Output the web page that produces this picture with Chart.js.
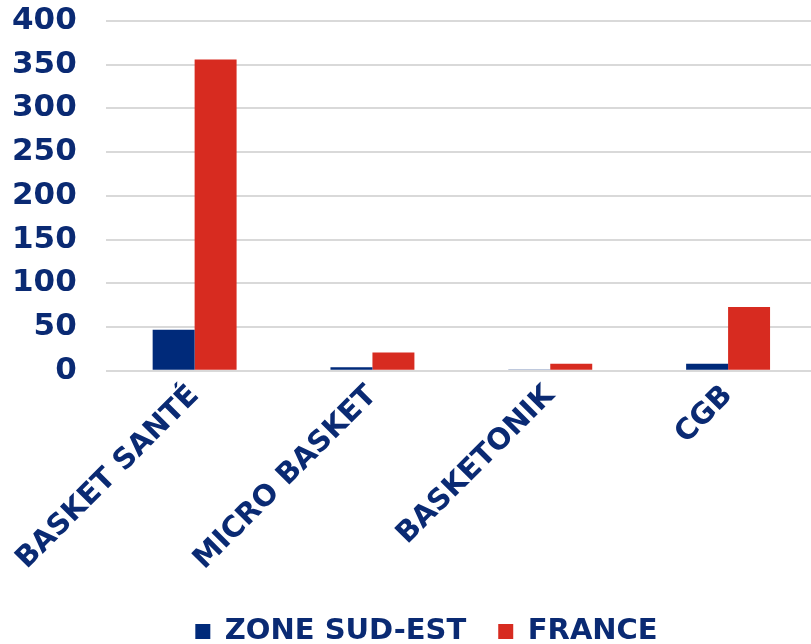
<!DOCTYPE html>
<html><head><meta charset="utf-8">
<script src="https://cdn.jsdelivr.net/npm/chart.js@4/dist/chart.umd.min.js"></script>
<style>html,body{margin:0;padding:0;background:#fff;overflow:hidden}#wrap{width:811px;height:644px;overflow:hidden}canvas{display:block}</style>
</head><body><div id="wrap"><canvas id="c" width="817" height="644"></canvas></div>
<script>
const categories = ["BASKET SANTÉ", "MICRO BASKET", "BASKETONIK", "CGB"];
const zoneSudEst = [47, 4, 1, 8];
const france = [356, 21, 8, 73];
const seriesNames = ["ZONE SUD-EST", "FRANCE"];
const yTicks = [0, 50, 100, 150, 200, 250, 300, 350, 400];

const navy = "#0a2a73";
const fam = "'DejaVu Sans', sans-serif";

const legendShift = {
  id: "legendShift",
  afterLayout(chart) {
    const lg = chart.legend;
    if (lg) { lg.left += 12; lg.right += 12; }
  }
};

new Chart(document.getElementById("c"), {
  type: "bar",
  data: {
    labels: categories,
    datasets: [
      {label: seriesNames[0], data: zoneSudEst, backgroundColor: "#002a7a", categoryPercentage: 0.472, barPercentage: 1},
      {label: seriesNames[1], data: france, backgroundColor: "#d72b20", categoryPercentage: 0.472, barPercentage: 1}
    ]
  },
  plugins: [legendShift],
  options: {
    responsive: false,
    animation: false,
    devicePixelRatio: 1,
    layout: {autoPadding: false, padding: {top: 21, right: 0, left: 12, bottom: -12}},
    plugins: {
      legend: {
        position: "bottom",
        labels: {color: navy, font: {family: fam, weight: "bold", size: 29}, boxWidth: 15, boxHeight: 15, padding: 32}
      },
      tooltip: {enabled: false}
    },
    scales: {
      x: {
        grid: {display: false, drawTicks: false},
        border: {display: false},
        ticks: {color: navy, font: {family: fam, weight: "bold", size: 29}, maxRotation: 45, minRotation: 45, padding: 8},
        afterFit: (s) => { s.paddingLeft = 0; s.paddingRight = 0; }
      },
      y: {
        min: 0, max: 400,
        afterBuildTicks: (axis) => { axis.ticks = yTicks.map(v => ({value: v})); },
        grid: {color: "#d9d9d9", lineWidth: 2, drawTicks: true, tickLength: 29, tickColor: "rgba(0,0,0,0)"},
        border: {display: false},
        ticks: {color: navy, font: {family: fam, weight: "bold", size: 31}, padding: 0, autoSkip: false}
      }
    }
  }
});
</script></body></html>
